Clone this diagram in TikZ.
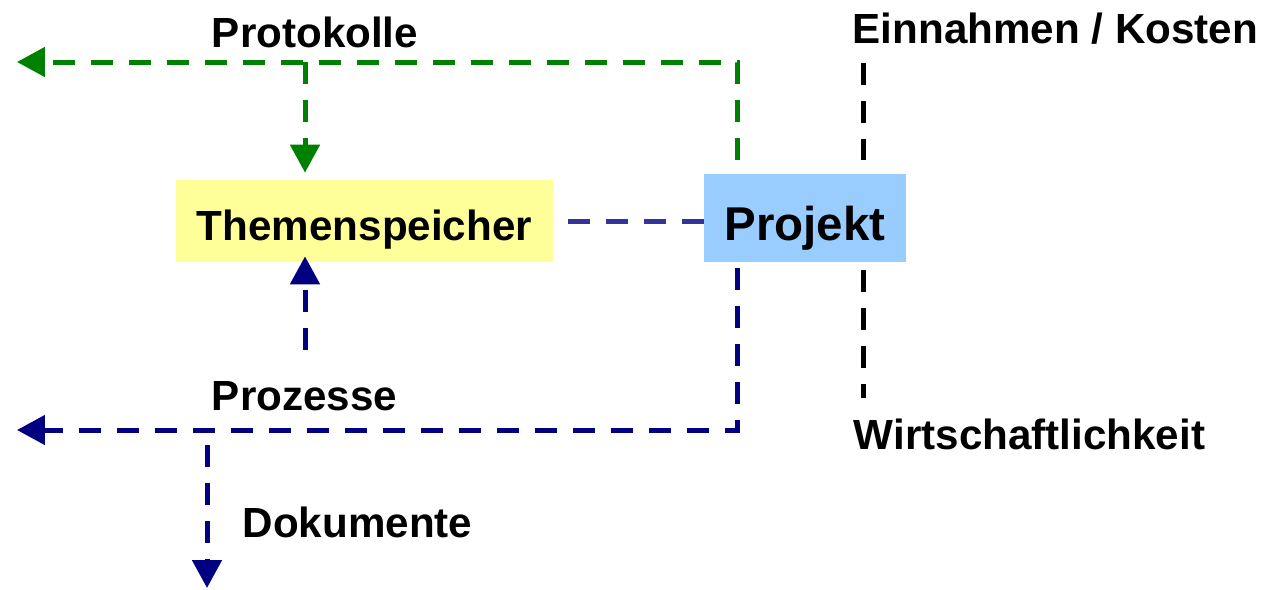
\documentclass[tikz,border=0pt]{standalone}
\usepackage{fontspec}
\setmainfont{Liberation Sans}
\usetikzlibrary{arrows.meta, positioning}
\definecolor{gruen}{HTML}{008000}
\definecolor{navy}{HTML}{000080}
\definecolor{lila}{HTML}{333399}
\definecolor{gelb}{HTML}{FFFF99}
\definecolor{hblau}{HTML}{99CCFF}
\tikzstyle{box} = [rectangle, inner sep=0pt, text depth=0pt, font=\fontsize{24}{28}\selectfont\bfseries]
\tikzstyle{txt} = [anchor=base, inner sep=0pt, font=\fontsize{24}{28}\selectfont\bfseries]
\tikzstyle{strich} = [line width=0.1cm, dash pattern=on 0.44cm off 0.32cm]
\tikzstyle{pfeil} = [-{Triangle[length=0.56cm, width=0.58cm]}]

\begin{document}
\begin{tikzpicture}[x=0.02cm, y=-0.02cm]
\useasboundingbox (0,0) rectangle (1265,589);

\node(TS)[box, fill=gelb, minimum width=7.54cm, minimum height=1.64cm, text height=0.76cm] at (364.5,221) {Themenspeicher};
\node(PJ)[box, fill=hblau, minimum width=4.04cm, minimum height=1.76cm, text height=0.88cm, font=\fontsize{27}{32}\selectfont\bfseries] at (805,218) {Projekt};

\node(PROT)[txt] at (315,47) {Protokolle};
\node(EK)[txt] at (1055.5,43) {Einnahmen / Kosten};
\node(PROZ)[txt] at (304.5,410) {Prozesse};
\node(WK)[txt] at (1029.5,449) {Wirtschaftlichkeit};
\node(DOK)[txt] at (357.5,537) {Dokumente};

\coordinate (gl) at (17,62);
\coordinate (gr) at (737,62);
\coordinate (gm) at (305,62);
\coordinate (nl) at (17,430);
\coordinate (nr) at (737,430);
\coordinate (pz) at (305,350);
\coordinate (dk) at (207,430);
\coordinate (dk2) at (207,588);
\coordinate (ek) at (863,63);
\coordinate (wk) at (863,398);

% Protokolle
\draw [strich, gruen, pfeil, shorten <=0.28cm] (PJ.north -| gr) |- (gl);
\draw [strich, gruen, pfeil, shorten >=0.14cm] (gm) -- (gm |- TS.north);

\draw [strich, lila, shorten >=0.28cm] (TS.east -| PJ.west) -- (TS.east);

% Prozesse
\draw [strich, navy, pfeil, shorten <=0.12cm] (PJ.south -| nr) |- (nl);
\draw [strich, navy, pfeil, shorten >=-0.12cm] (pz) -- (pz |- TS.south);
\draw [strich, navy, pfeil, shorten <=0.3cm] (dk) -- (dk2);

% Einnahmen / Kosten
\draw [strich, shorten >=0.28cm] (ek) -- (ek |- PJ.north);
\draw [strich, shorten <=0.16cm] (PJ.south -| wk) -- (wk);

\end{tikzpicture}
\end{document}
